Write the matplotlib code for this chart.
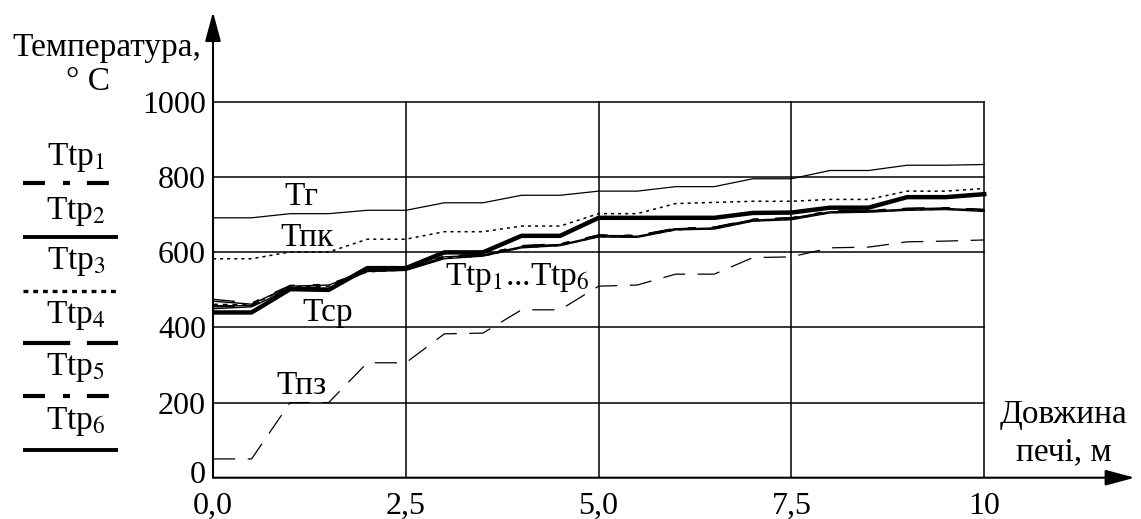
import matplotlib
matplotlib.use('Agg')
import matplotlib.pyplot as plt
import matplotlib.transforms as mtransforms

plt.rcParams['font.family'] = ['Liberation Serif', 'DejaVu Serif']
plt.rcParams['mathtext.fontset'] = 'stix'
plt.rcParams['lines.scale_dashes'] = False

# ===== DATA =====
length = [0, 0.5, 1, 1.5, 2, 2.5, 3, 3.5, 4, 4.5, 5, 5.5, 6, 6.5, 7, 7.5, 8, 8.5, 9, 9.5, 10]

t_gas = [692, 692, 703, 703, 712, 712, 732, 732, 752, 752, 763, 763, 775, 775, 796, 796, 818, 818, 832, 832, 834]
t_pk = [583, 583, 601, 601, 635, 635, 655, 655, 670, 670, 703, 703, 730, 733, 736, 736, 741, 741, 763, 763, 770]
t_sr = [440, 440, 502, 500, 558, 558, 600, 600, 644, 644, 692, 692, 692, 692, 705, 706, 719, 719, 747, 747, 755]
t_pz = [50, 50, 200, 200, 306, 306, 383, 385, 447, 447, 510, 513, 542, 542, 586, 588, 612, 614, 628, 630, 633]

t_tp1 = [475, 465, 512, 515, 552, 556, 590, 595, 618, 623, 646, 645, 664, 667, 688, 692, 710, 712, 717, 719, 714]
t_tp2 = [470, 462, 510, 513, 550, 555, 588, 593, 615, 620, 644, 643, 662, 665, 686, 690, 708, 710, 715, 717, 712]
t_tp3 = [462, 460, 508, 510, 548, 553, 585, 590, 613, 618, 642, 641, 660, 663, 684, 688, 706, 708, 713, 715, 710]
t_tp4 = [458, 458, 506, 508, 550, 554, 587, 592, 616, 621, 645, 644, 663, 666, 687, 691, 709, 711, 716, 718, 713]
t_tp5 = [455, 456, 505, 507, 552, 556, 590, 595, 617, 622, 646, 645, 664, 667, 688, 692, 710, 712, 717, 719, 714]
t_tp6 = [450, 455, 503, 505, 549, 552, 583, 590, 612, 618, 641, 640, 660, 662, 683, 687, 705, 707, 712, 714, 709]

x_ticks = [0, 2.5, 5, 7.5, 10]
x_tick_labels = ['0,0', '2,5', '5,0', '7,5', '10']
y_ticks = [0, 200, 400, 600, 800, 1000]
y_tick_labels = ['0', '200', '400', '600', '800', '1000']

tp_names = ['Ttp$_1$', 'Ttp$_2$', 'Ttp$_3$', 'Ttp$_4$', 'Ttp$_5$', 'Ttp$_6$']
tp_series = [t_tp1, t_tp2, t_tp3, t_tp4, t_tp5, t_tp6]
tp_styles = [(0, (15.8, 13, 5, 12.2)), '-', (0, (3.5, 3.5)), (0, (34, 12)), (0, (15.8, 13, 5, 12.2)), '-']

FS = 24

fig = plt.figure(figsize=(11.41, 5.19), dpi=100)

# pixel overlay for labels and legend
ov = fig.add_axes([0, 0, 1, 1])
ov.set_xlim(0, 1141)
ov.set_ylim(519, 0)
ov.axis('off')

ax = fig.add_axes([213 / 1141, (519 - 477.7) / 519, (1130 - 213) / 1141, (477.7 - 15) / 519])
ax.set_xlim(0, 11.89)
ax.set_ylim(0, 1232)
ax.patch.set_alpha(0)
for s in ['top', 'right', 'left', 'bottom']:
    ax.spines[s].set_visible(False)

# grid only inside 0..10 / 0..1000
for yv in y_ticks[1:]:
    ax.plot([0, 10], [yv, yv], color='k', lw=1.1)
for xv in x_ticks[1:]:
    ax.plot([xv, xv], [0, 1000], color='k', lw=1.1)

# axes with arrows
ax.annotate('', xy=(0, 1240), xytext=(0, 0), annotation_clip=False,
            arrowprops=dict(arrowstyle='-|>,head_length=1.0,head_width=0.27', mutation_scale=18,
                            lw=1.5, color='k', shrinkA=0, shrinkB=0))
ax.annotate('', xy=(11.95, 0), xytext=(0, 0), annotation_clip=False,
            arrowprops=dict(arrowstyle='-|>,head_length=1.0,head_width=0.27', mutation_scale=18,
                            lw=1.5, color='k', shrinkA=0, shrinkB=0))

ax.set_xticks(x_ticks)
ax.set_xticklabels(x_tick_labels)
ax.set_yticks(y_ticks)
ax.set_yticklabels(y_tick_labels)
ax.tick_params(length=0, labelsize=23)
ax.tick_params(axis='x', pad=10)
ax.tick_params(axis='y', pad=5)
# nudge the "0" label up a little so it clears "0,0"
lab0 = ax.get_yticklabels()[0]
lab0.set_transform(lab0.get_transform() + mtransforms.ScaledTranslation(0, 4 / 72, fig.dpi_scale_trans))

# series
ax.plot(length, t_gas, color='k', lw=0.9)
ax.plot(length, t_pk, color='k', lw=1.1, linestyle=(0, (2.2, 2.9)))
ax.plot(length, t_pz, color='k', lw=0.9, linestyle=(0, (16, 9)))
for vals, ls in zip(tp_series, tp_styles):
    ax.plot(length, vals, color='k', lw=1.0, linestyle=ls)
ax.plot(length, t_sr, color='k', lw=3.2)

# in-plot labels
ax.text(1.15, 748, 'Тг', fontsize=FS, ha='center', va='center')
ax.text(1.22, 640, 'Тпк', fontsize=FS, ha='center', va='center')
ax.text(1.49, 440, 'Тср', fontsize=FS, ha='center', va='center')
ax.text(1.15, 244, 'Тпз', fontsize=FS, ha='center', va='center')
ax.text(3.95, 532, 'Ttp$_1$...Ttp$_6$', fontsize=FS, ha='center', va='center')

# axis titles
ov.text(107, 48, 'Температура,', fontsize=FS, ha='center', va='center')
ov.text(88, 82, '° C', fontsize=FS, ha='center', va='center')
ov.text(1063, 415, 'Довжина', fontsize=FS, ha='center', va='center')
ov.text(1064, 452, 'печі, м', fontsize=FS, ha='center', va='center')

# left legend
leg_label_y = [157, 212, 262, 315, 368, 422]
leg_line_y = [183, 237, 291, 343, 396, 450]
leg_lw = [3.0, 2.8, 2.4, 3.0, 3.0, 2.8]
for name, ls, yl, yln, lw in zip(tp_names, tp_styles, leg_label_y, leg_line_y, leg_lw):
    ov.text(76, yl, name, fontsize=FS, ha='center', va='center')
    ov.plot([23, 118], [yln, yln], color='k', lw=lw, linestyle=ls, solid_capstyle='butt', dash_capstyle='butt')

fig.savefig('out.png', dpi=100)
